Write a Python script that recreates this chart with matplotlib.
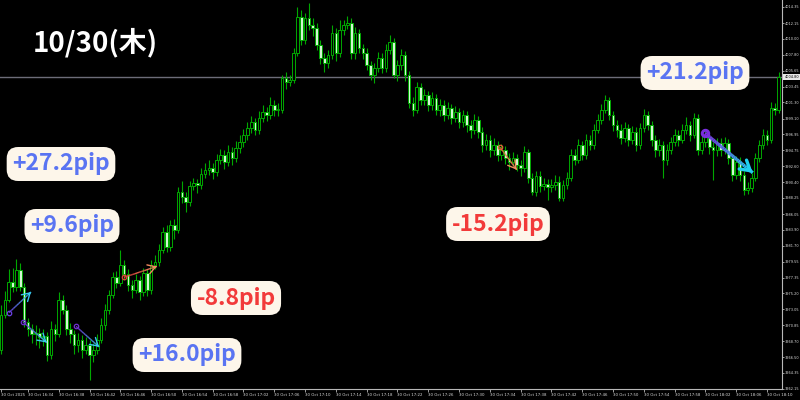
import matplotlib
matplotlib.use("Agg")
import matplotlib.pyplot as plt
import numpy as np
from matplotlib.collections import LineCollection
from matplotlib.patches import Rectangle
from matplotlib.colors import to_rgb

# ---- data ----
first_open = 3967.5

closes = [
    3972.3, 3974.3, 3976.8, 3976.1, 3978.4, 3976.1, 3971.3, 3970.3, 3969.6, 3969.8,
    3969.2, 3969.4, 3966.8, 3970.3, 3969.6, 3974.3, 3973.0, 3970.3, 3969.6, 3968.2,
    3968.9, 3967.5, 3968.2, 3966.8, 3967.5, 3968.9, 3970.9, 3973.0, 3975.0, 3977.4,
    3976.7, 3979.1, 3977.8, 3976.4, 3975.7, 3977.1, 3975.4, 3978.0, 3975.7, 3979.1,
    3979.5, 3981.2, 3983.6, 3981.6, 3984.6, 3983.9, 3989.1, 3988.4, 3987.7, 3989.9,
    3990.3, 3990.0, 3991.5, 3992.1, 3992.4, 3991.8, 3993.5, 3994.1, 3993.1, 3994.6,
    3993.7, 3995.1, 3995.9, 3996.9, 3997.8, 3998.6, 3997.6, 3999.2, 4000.0, 3999.6,
    4001.0, 4000.3, 4000.3, 4004.7, 4004.1, 4004.4, 4008.1, 4013.0, 4009.8, 4012.8,
    4011.9, 4011.5, 4009.2, 4007.4, 4006.7, 4007.8, 4010.8, 4008.1, 4011.2, 4011.9,
    4012.2, 4008.1, 4010.8, 4008.7, 4008.1, 4006.4, 4005.1, 4006.0, 4007.4, 4006.0,
    4008.5, 4009.6, 4005.1, 4006.4, 4007.8, 4005.1, 4001.2, 4000.3, 4003.4, 4001.7,
    4002.3, 4001.0, 4001.9, 4000.3, 4001.0, 3999.6, 4000.6, 3999.2, 4000.0, 3998.6,
    3999.6, 3998.2, 3997.6, 3998.9, 3997.3, 3995.5, 3996.2, 3994.8, 3995.5, 3994.1,
    3994.8, 3993.7, 3993.2, 3993.7, 3992.8, 3992.4, 3994.6, 3991.0, 3989.1, 3991.3,
    3989.9, 3990.2, 3989.8, 3990.0, 3990.5, 3988.3, 3990.0, 3991.0, 3994.1, 3993.5,
    3995.5, 3994.1, 3996.2, 3995.5, 3997.6, 3998.9, 4000.3, 4001.7, 3999.6, 3998.2,
    3997.6, 3996.5, 3997.8, 3996.2, 3997.3, 3995.5, 3997.8, 3999.6, 3998.2, 3996.2,
    3994.8, 3995.5, 3993.5, 3994.8, 3995.9, 3996.9, 3996.2, 3997.6, 3998.2, 3996.9,
    3999.2, 3994.8, 3995.9, 3996.6, 3995.2, 3994.8, 3995.8, 3994.8, 3995.8, 3993.7,
    3991.4, 3993.2, 3991.4, 3989.4, 3989.6, 3991.0, 3993.7, 3995.5, 3996.9, 3996.2,
    4000.6, 4000.3, 4004.8,
]

highs = [
    3973.6, 3975.6, 3978.5, 3978.7, 3979.9, 3979.3, 3976.6, 3971.9, 3971.0, 3970.9,
    3970.5, 3970.4, 3970.0, 3971.4, 3971.0, 3975.4, 3975.0, 3973.6, 3971.2, 3970.2,
    3969.8, 3969.5, 3969.3, 3968.9, 3968.4, 3969.7, 3971.8, 3973.8, 3975.7, 3978.1,
    3978.3, 3981.2, 3979.8, 3978.5, 3977.0, 3977.9, 3977.6, 3978.7, 3978.5, 3979.8,
    3980.4, 3982.0, 3984.3, 3984.5, 3985.3, 3985.4, 3989.8, 3990.6, 3989.0, 3990.6,
    3991.0, 3990.9, 3992.3, 3993.0, 3993.4, 3993.0, 3994.3, 3995.0, 3994.8, 3995.5,
    3995.2, 3996.0, 3996.8, 3997.7, 3998.6, 3999.5, 3999.2, 4000.1, 4000.9, 4000.7,
    4002.0, 4001.6, 4001.2, 4005.1, 4005.5, 4005.0, 4008.8, 4014.3, 4014.0, 4013.5,
    4014.9, 4012.9, 4012.1, 4009.8, 4008.0, 4008.5, 4011.9, 4011.5, 4012.6, 4012.5,
    4013.1, 4012.8, 4011.6, 4011.4, 4009.3, 4008.7, 4006.9, 4006.7, 4008.2, 4008.0,
    4009.3, 4010.5, 4010.1, 4007.1, 4008.6, 4008.3, 4005.6, 4002.0, 4004.1, 4004.0,
    4003.2, 4002.9, 4002.7, 4002.5, 4001.8, 4001.7, 4001.4, 4001.1, 4000.8, 4000.6,
    4000.3, 4000.2, 3998.9, 3999.7, 3999.5, 3997.9, 3997.0, 3996.9, 3996.4, 3996.0,
    3995.6, 3995.3, 3994.4, 3994.5, 3994.3, 3993.5, 3995.4, 3995.0, 3991.6, 3992.0,
    3991.9, 3991.0, 3990.9, 3990.8, 3991.4, 3991.2, 3990.7, 3991.8, 3994.9, 3995.0,
    3996.3, 3996.1, 3997.0, 3996.9, 3998.4, 3999.7, 4001.1, 4002.3, 4002.1, 4000.2,
    3998.9, 3998.3, 3998.6, 3998.4, 3998.1, 3997.9, 3998.5, 4000.4, 4000.1, 3998.8,
    3996.8, 3996.3, 3996.0, 3995.6, 3996.6, 3997.7, 3997.6, 3998.4, 3999.3, 3998.8,
    3999.9, 3999.7, 3996.7, 3997.4, 3997.1, 3995.9, 3996.5, 3996.4, 3996.6, 3996.3,
    3994.2, 3994.0, 3993.8, 3991.9, 3990.4, 3991.7, 3994.4, 3996.2, 3997.7, 3997.5,
    4001.4, 4001.2, 4005.4,
]

lows = [
    3966.9, 3971.8, 3974.0, 3975.4, 3975.6, 3975.5, 3970.6, 3969.4, 3968.5, 3968.2,
    3967.8, 3968.0, 3966.0, 3966.3, 3968.7, 3969.2, 3972.4, 3969.5, 3968.4, 3967.0,
    3967.2, 3966.4, 3966.9, 3963.4, 3965.8, 3966.9, 3968.4, 3970.2, 3972.4, 3974.6,
    3976.0, 3976.2, 3977.0, 3975.6, 3974.6, 3975.2, 3974.3, 3974.9, 3974.8, 3975.1,
    3978.5, 3979.0, 3980.7, 3980.9, 3981.0, 3982.6, 3983.4, 3987.6, 3986.4, 3987.1,
    3989.3, 3988.9, 3989.5, 3991.0, 3991.4, 3990.8, 3991.2, 3992.9, 3992.2, 3992.6,
    3992.8, 3993.1, 3994.4, 3995.2, 3996.2, 3997.1, 3996.8, 3997.0, 3998.6, 3998.8,
    3999.0, 3999.5, 3999.4, 3999.9, 4003.2, 4003.5, 4003.9, 4007.6, 4009.1, 4009.3,
    4011.2, 4010.4, 4008.5, 4006.6, 4005.4, 4006.0, 4007.2, 4007.0, 4007.5, 4010.5,
    4011.3, 4007.2, 4007.3, 4008.0, 4007.3, 4005.8, 4004.4, 4004.0, 4005.5, 4005.3,
    4005.4, 4007.9, 4004.6, 4004.3, 4005.7, 4004.2, 4000.6, 3999.4, 3999.8, 4000.9,
    4001.0, 4000.1, 4000.3, 3999.6, 3999.5, 3998.7, 3999.0, 3998.3, 3998.6, 3997.8,
    3998.0, 3997.3, 3996.5, 3997.0, 3996.4, 3994.6, 3994.8, 3993.9, 3994.1, 3993.3,
    3993.5, 3992.9, 3992.1, 3992.6, 3991.9, 3991.2, 3991.8, 3990.3, 3988.6, 3988.5,
    3989.0, 3989.3, 3988.0, 3989.1, 3989.4, 3987.8, 3987.9, 3989.5, 3990.6, 3992.7,
    3993.0, 3993.4, 3993.6, 3994.8, 3995.0, 3997.1, 3998.3, 3999.8, 3998.9, 3997.4,
    3996.6, 3995.6, 3995.9, 3995.3, 3995.6, 3994.7, 3995.0, 3997.2, 3997.5, 3995.4,
    3993.9, 3994.0, 3991.0, 3992.8, 3994.2, 3995.3, 3995.4, 3995.7, 3997.0, 3996.0,
    3996.4, 3994.1, 3994.2, 3995.2, 3994.3, 3990.7, 3994.0, 3994.0, 3994.2, 3992.9,
    3990.6, 3990.8, 3990.6, 3988.7, 3988.8, 3989.1, 3990.6, 3993.2, 3995.0, 3995.5,
    3995.8, 3999.6, 3999.9,
]

bid_price = 4004.8
bid_label = "4004.80"

price_ticks = [
    3962.15, 3964.35, 3966.50, 3968.70, 3970.85, 3973.05, 3975.20, 3977.35,
    3979.55, 3981.70, 3983.90, 3986.05, 3988.25, 3990.40, 3992.60, 3994.75,
    3996.95, 3999.10, 4001.30, 4003.45, 4005.65, 4007.80, 4010.00, 4012.15,
    4014.35,
]

time_bars = [0, 7, 15, 23, 31, 39, 47, 55, 63, 71, 79, 87, 95, 103, 111, 119,
             127, 135, 143, 151, 159, 167, 175, 183, 191, 199]
time_labels = [
    "30 Oct 2025", "30 Oct 16:34", "30 Oct 16:38", "30 Oct 16:42", "30 Oct 16:46",
    "30 Oct 16:50", "30 Oct 16:54", "30 Oct 16:58", "30 Oct 17:02", "30 Oct 17:06",
    "30 Oct 17:10", "30 Oct 17:14", "30 Oct 17:18", "30 Oct 17:22", "30 Oct 17:26",
    "30 Oct 17:30", "30 Oct 17:34", "30 Oct 17:38", "30 Oct 17:42", "30 Oct 17:46",
    "30 Oct 17:50", "30 Oct 17:54", "30 Oct 17:58", "30 Oct 18:02", "30 Oct 18:06",
    "30 Oct 18:10",
]

# trade arrows: (start bar, start price, end bar, end price)
trades = [
    (2.1, 3972.6, 7.8, 3975.4),
    (5.7, 3971.3, 11.9, 3968.5),
    (19.5, 3970.7, 25.5, 3967.9),
    (31.9, 3977.4, 40.5, 3978.9),
    (129.6, 3995.2, 134.0, 3992.1),
    (182.9, 3997.1, 195.3, 3991.7),
]
trade_colors = [
    ("#6a3fe0", "#38c8f0"),
    ("#6a2fd0", "#38c8f0"),
    ("#7030d0", "#38c8f0"),
    ("#e0403a", "#f08a60"),
    ("#e06038", "#f09060"),
    ("#7a2fe0", "#20d0f0"),
]
trade_widths = [1.0, 1.0, 1.0, 1.0, 1.0, 2.4]

pip_texts = ["+27.2pip", "+9.6pip", "+16.0pip", "-8.8pip", "-15.2pip", "+21.2pip"]
pip_colors = ["#5a74f2", "#5a74f2", "#5a74f2", "#f23a3a", "#f23a3a", "#5a74f2"]
# box centres in pixels (x, y from top)
pip_pos = [(61, 164), (72, 226), (187, 355), (236, 298), (498, 224), (695, 73)]

title = "10/30(木)"

# ---- style ----
GREEN = "#00a800"
PALE = "#d2f5d2"
W, H = 800, 400

fig = plt.figure(figsize=(8, 4), dpi=100, facecolor="black")
ax = fig.add_axes([0, 11 / H, 782 / W, 389 / H])
ax.set_facecolor("black")

opens = [first_open] + closes[:-1]
for i, (o, h, l, c) in enumerate(zip(opens, highs, lows, closes)):
    ax.vlines(i, l, h, color=GREEN, lw=0.8, zorder=1)
    bull = c >= o
    bottom = min(o, c)
    height = max(abs(c - o), 0.08)
    ax.add_patch(Rectangle((i - 0.34, bottom), 0.68, height,
                           fc="black" if bull else PALE, ec=GREEN, lw=0.7, zorder=2))

ax.set_xlim(-0.26, 202.9)
ax.set_ylim(3962.2, 4015.3)

# bid line
ax.axhline(bid_price, color="#6c6c78", lw=1.0, zorder=0.5)
ax.text(1.003, bid_price, bid_label, transform=ax.get_yaxis_transform(),
        fontsize=2.5, color="black", va="center", ha="left",
        bbox=dict(boxstyle="square,pad=0.3", fc="#e8e8e8", ec="none"), clip_on=False)

# axes look like MT4
for side in ["top", "left"]:
    ax.spines[side].set_visible(False)
for side in ["right", "bottom"]:
    ax.spines[side].set_color("#b8b8b8")
    ax.spines[side].set_linewidth(0.8)
ax.yaxis.tick_right()
ax.set_yticks(price_ticks)
ax.set_yticklabels([f"{p:.2f}" for p in price_ticks])
ax.set_xticks(time_bars)
ax.set_xticklabels(time_labels, ha="left")
ax.tick_params(axis="both", colors="#dcdcdc", labelsize=2.8, length=2, width=0.5, pad=1.2)
ax.tick_params(axis="y", labelsize=2.5, length=1.5, pad=0.6)


def mix(c0, c1, t):
    a, b = np.array(to_rgb(c0)), np.array(to_rgb(c1))
    return tuple(a + (b - a) * t)


for (x0, y0, x1, y1), (c0, c1), lw in zip(trades, trade_colors, trade_widths):
    n = 30
    xs = np.linspace(x0, x1, n + 1)
    ys = np.linspace(y0, y1, n + 1)
    segs = np.stack([np.column_stack([xs[:-1], ys[:-1]]),
                     np.column_stack([xs[1:], ys[1:]])], axis=1)
    cols = [mix(c0, c1, t) for t in np.linspace(0, 1, n)]
    ax.add_collection(LineCollection(segs, colors=cols, linewidths=lw, zorder=5))
    ax.plot(x0, y0, "o", ms=2.2 + lw, mfc="none", mec=c0, mew=lw * 0.9, zorder=6)
    ax.annotate("", xy=(x1, y1), xytext=(xs[-4], ys[-4]),
                arrowprops=dict(arrowstyle="->,head_length=0.5,head_width=0.3",
                                color=c1, lw=lw, shrinkA=0, shrinkB=0,
                                mutation_scale=9 + 2 * lw),
                zorder=6)

# labels
for txt, col, (px, py) in zip(pip_texts, pip_colors, pip_pos):
    fig.text(px / W, 1 - py / H, txt, color=col, fontsize=16.5, fontweight="bold",
             family=["Noto Sans CJK JP", "DejaVu Sans"], ha="center", va="center",
             bbox=dict(boxstyle="round,pad=0.24,rounding_size=0.5", fc="#fdf6ea", ec="none"),
             zorder=10)

fig.text(95 / W, 1 - 43 / H, title, color="white", fontsize=20, fontweight="bold",
         family=["Noto Sans CJK JP", "DejaVu Sans"], ha="center", va="center")

fig.savefig("out.png", dpi=100, facecolor="black")
